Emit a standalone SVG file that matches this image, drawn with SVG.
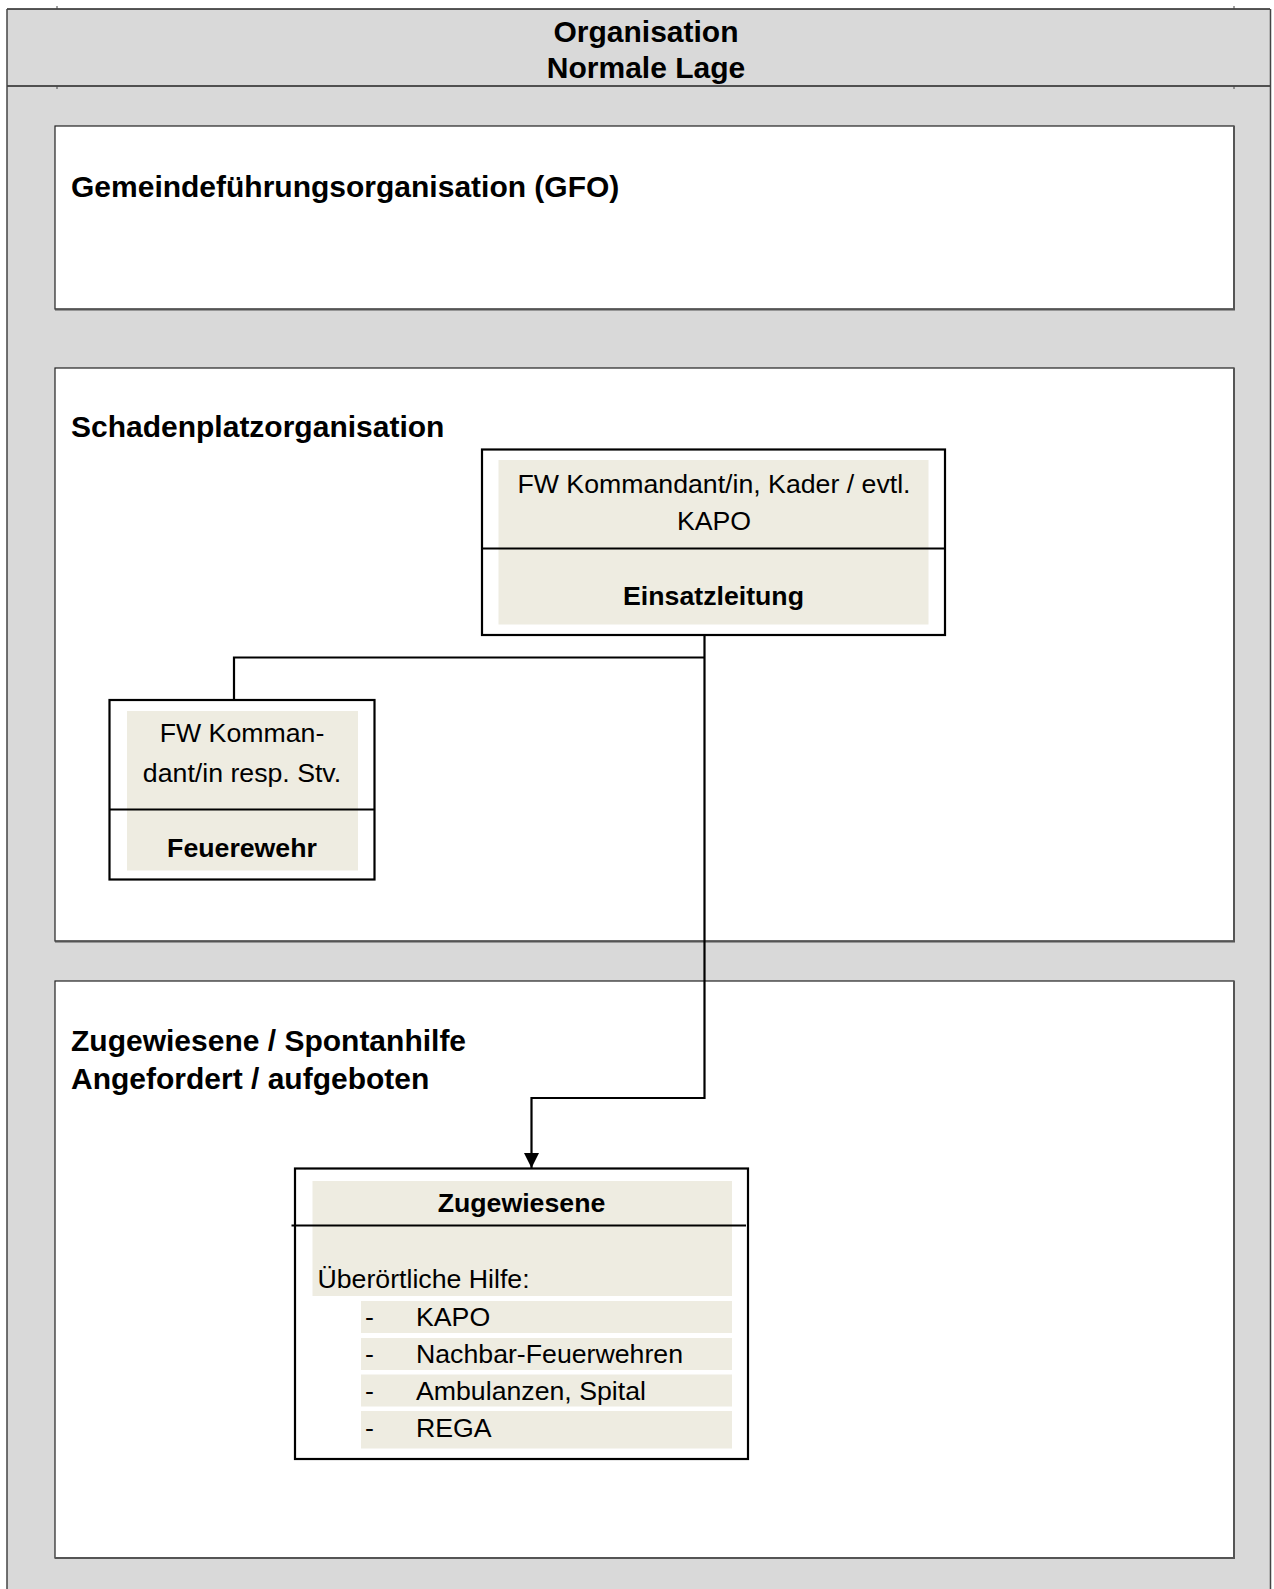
<svg xmlns="http://www.w3.org/2000/svg" width="1274" height="1589" viewBox="0 0 1274 1589">
<defs>
<style>
.t{font-family:"Liberation Sans",Arial,sans-serif;fill:#000}
.title{font-size:30px;font-weight:bold}
.body{font-size:26.7px}
.bold{font-weight:bold}
.mid{text-anchor:middle}
.sec{fill:#fff;stroke:#222;stroke-width:1.2}
.shadow{stroke:#555;stroke-width:2;fill:none}
.node{fill:#fff;stroke:#000;stroke-width:2.2}
.beige{fill:#EEECE1}
.div{stroke:#000;stroke-width:2.2}
.conn{fill:none;stroke:#000;stroke-width:2.2}
</style>
<marker id="arr" markerWidth="15" markerHeight="15" refX="15" refY="7.5" orient="auto" markerUnits="userSpaceOnUse">
<path d="M0,0 L15,7.5 L0,15 Z" fill="#000"/>
</marker>
</defs>
<rect x="0" y="0" width="1274" height="1589" fill="#fff"/>
<g id="frame">
<rect x="7" y="9" width="1263" height="1580" fill="#D9D9D9"/>
<line x1="7" y1="9" x2="1270" y2="9" stroke="#222" stroke-width="1.5"/>
<line x1="7" y1="86" x2="1270" y2="86" stroke="#222" stroke-width="1.5"/>
<line x1="7" y1="9" x2="7" y2="1589" stroke="#444" stroke-width="1.5"/>
<line x1="1270.5" y1="9" x2="1270.5" y2="1589" stroke="#444" stroke-width="1.5"/>
<line x1="57" y1="6" x2="57" y2="9" stroke="#444" stroke-width="1"/>
<line x1="1234" y1="6" x2="1234" y2="9" stroke="#444" stroke-width="1"/>
<line x1="57" y1="86" x2="57" y2="89" stroke="#444" stroke-width="1"/>
<line x1="1234" y1="86" x2="1234" y2="89" stroke="#444" stroke-width="1"/>
<text class="t title mid" x="646" y="42">Organisation</text>
<text class="t title mid" x="646" y="78">Normale Lage</text>
</g>
<g id="gfo">
<rect class="sec" x="55" y="126" width="1179" height="183"/>
<polyline class="shadow" points="1234,126 1234,309.5 55,309.5"/>
<text class="t title" x="71" y="197">Gemeindeführungsorganisation (GFO)</text>
</g>
<g id="schadenplatz">
<rect class="sec" x="55" y="368" width="1179" height="573"/>
<polyline class="shadow" points="1234,368 1234,941.5 55,941.5"/>
<text class="t title" x="71" y="437">Schadenplatzorganisation</text>
</g>
<g id="zugewiesene-section">
<rect class="sec" x="55" y="981" width="1179" height="577"/>
<polyline class="shadow" points="1234,981 1234,1558 55,1558"/>
<text class="t title" x="71" y="1051">Zugewiesene / Spontanhilfe</text>
<text class="t title" x="71" y="1089">Angefordert / aufgeboten</text>
</g>
<g id="einsatzleitung">
<rect class="node" x="482" y="449.5" width="463" height="185.5"/>
<rect class="beige" x="498.5" y="460" width="430" height="164.5"/>
<line class="div" x1="482" y1="548.5" x2="945" y2="548.5"/>
<text class="t body mid" x="714" y="493">FW Kommandant/in, Kader / evtl.</text>
<text class="t body mid" x="714" y="530">KAPO</text>
<text class="t body bold mid" x="713.5" y="605">Einsatzleitung</text>
</g>
<g id="feuerwehr">
<rect class="node" x="109.5" y="700" width="265" height="179.5"/>
<rect class="beige" x="127" y="711" width="231" height="159.5"/>
<line class="div" x1="109.5" y1="809.5" x2="374.5" y2="809.5"/>
<text class="t body mid" x="242" y="742">FW Komman-</text>
<text class="t body mid" x="242" y="782">dant/in resp. Stv.</text>
<text class="t body bold mid" x="242" y="857">Feuerewehr</text>
</g>
<g id="zugewiesene">
<rect class="node" x="295" y="1168.5" width="453" height="290.5"/>
<rect class="beige" x="312.5" y="1181" width="419.5" height="115"/>
<line class="div" x1="291.5" y1="1225.5" x2="746" y2="1225.5"/>
<text class="t body bold mid" x="521.5" y="1212">Zugewiesene</text>
<text class="t body" x="317.5" y="1288">Überörtliche Hilfe:</text>
<rect class="beige" x="361" y="1301" width="371" height="32"/>
<rect class="beige" x="361" y="1338" width="371" height="32"/>
<rect class="beige" x="361" y="1374.5" width="371" height="32"/>
<rect class="beige" x="361" y="1411" width="371" height="37.5"/>
<text class="t body" x="365" y="1325.5">-</text>
<text class="t body" x="416" y="1325.5">KAPO</text>
<text class="t body" x="365" y="1362.5">-</text>
<text class="t body" x="416" y="1362.5">Nachbar-Feuerwehren</text>
<text class="t body" x="365" y="1399.5">-</text>
<text class="t body" x="416" y="1399.5">Ambulanzen, Spital</text>
<text class="t body" x="365" y="1436.5">-</text>
<text class="t body" x="416" y="1436.5">REGA</text>
</g>
<g id="connectors">
<polyline class="conn" points="704.5,635 704.5,1098 531.5,1098 531.5,1168" marker-end="url(#arr)"/>
<polyline class="conn" stroke-width="1.6" points="704.5,657.5 234,657.5 234,700"/>
</g>
</svg>
